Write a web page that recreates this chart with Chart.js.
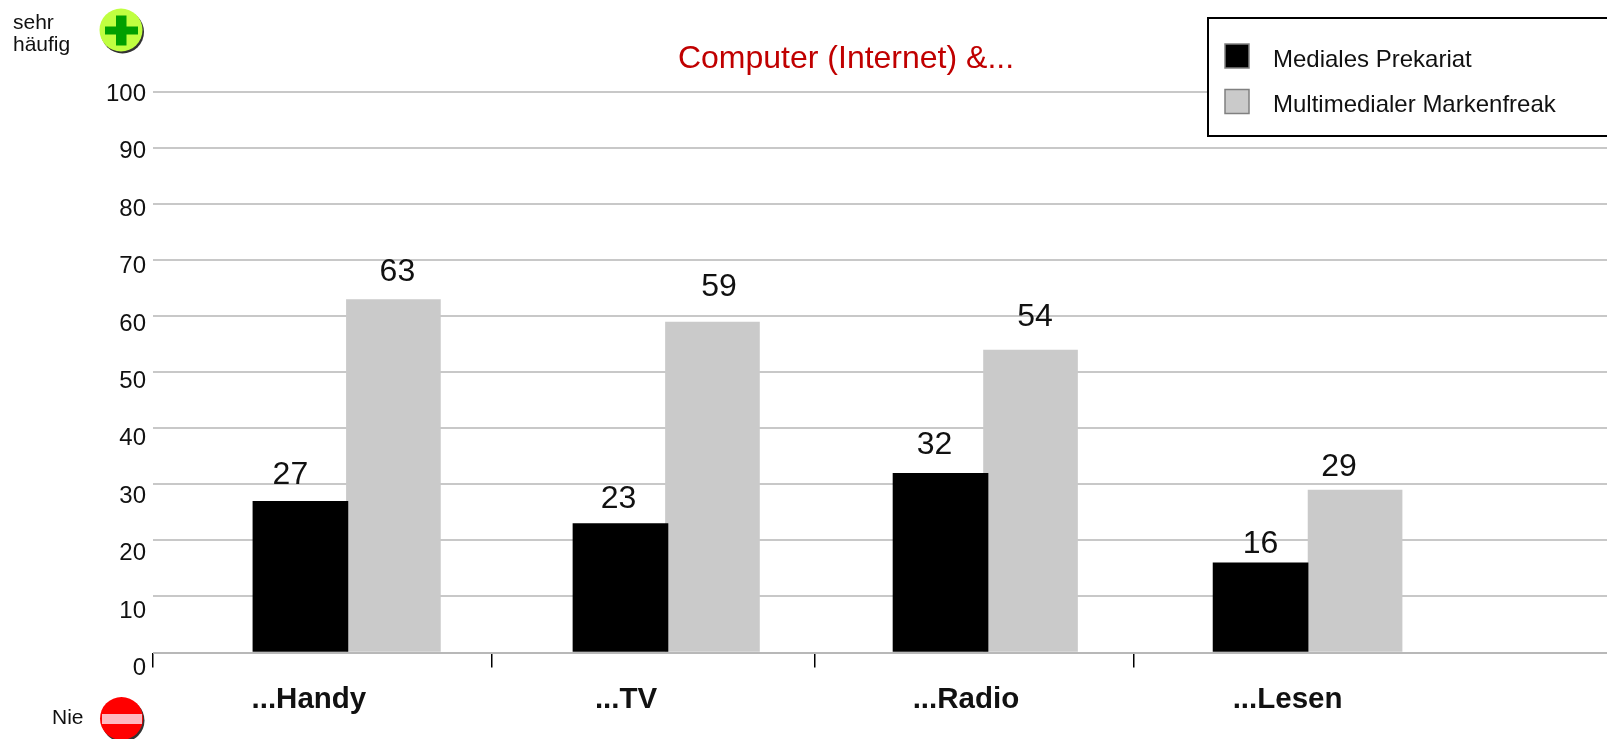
<!DOCTYPE html>
<html>
<head>
<meta charset="utf-8">
<title>Computer (Internet) &amp;...</title>
<script src="https://cdn.jsdelivr.net/npm/chart.js@4"></script>
<style>
  html, body { margin: 0; padding: 0; background: #fff; overflow: hidden; }
  canvas { display: block; }
</style>
</head>
<body>
<canvas id="chart" width="1607" height="739"></canvas>
<script>
// values
var categories = ["...Handy", "...TV", "...Radio", "...Lesen"];
var prekariat = [27, 23, 32, 16];
var markenfreak = [63, 59, 54, 29];
var yTicks = [0, 10, 20, 30, 40, 50, 60, 70, 80, 90, 100];

// x axis runs in group units, 0 = first group
var xMin = -0.609, xMax = 3.934;
var xTickMarks = [-0.609, 0.448, 1.459, 2.456];
var xLabelSpots = [-0.122, 0.869, 1.931, 2.936];

var fontName = '"Liberation Sans", Arial, sans-serif';
var textColor = "#111";

// the grey bars are not spaced evenly in the original, small nudge in px
var greyNudge = [-1.5, -2.5, -4.5, 0];

// value labels do not sit centred on the bars in the original
var labelShift = [
    [[-10, -26], [-2, -25], [-6, -28], [0, -19]],
    [[4, -27], [6.5, -35], [4.5, -33], [-16, -23]]
];

function toPoints(values) {
    return values.map(function (v, i) { return { x: i, y: v }; });
}

function setTicks(values) {
    return function (scale) {
        scale.ticks = values.map(function (v) { return { value: v }; });
    };
}

function setHeight(h) {
    return function (scale) { scale.height = h; };
}

function setWidth(w) {
    return function (scale) { scale.width = w; };
}

function text(ctx, str, x, y, size, color, align, weight) {
    ctx.font = (weight || "normal") + " " + size + "px " + fontName;
    ctx.fillStyle = color;
    ctx.textAlign = align || "left";
    ctx.textBaseline = "middle";
    ctx.fillText(str, x, y);
}

function badge(ctx, x, y, r, color) {
    ctx.fillStyle = "#333";
    ctx.beginPath();
    ctx.arc(x + 1.5, y + 2, r, 0, Math.PI * 2);
    ctx.fill();
    ctx.fillStyle = color;
    ctx.beginPath();
    ctx.arc(x, y, r, 0, Math.PI * 2);
    ctx.fill();
}

var extras = {
    id: "extras",
    afterLayout: function (chart) {
        // title is centred further right than the canvas middle
        chart.titleBlock.left = 85;
    },
    afterDatasetsUpdate: function (chart) {
        chart.getDatasetMeta(1).data.forEach(function (bar, i) {
            bar.x += greyNudge[i];
        });
    },
    afterDatasetsDraw: function (chart) {
        var ctx = chart.ctx;
        ctx.save();
        chart.data.datasets.forEach(function (ds, d) {
            chart.getDatasetMeta(d).data.forEach(function (bar, i) {
                text(ctx, String(ds.data[i].y), bar.x + labelShift[d][i][0], bar.y + labelShift[d][i][1], 32, textColor, "center");
            });
        });
        ctx.restore();
    },
    afterDraw: function (chart) {
        var ctx = chart.ctx;
        ctx.save();

        // legend box runs off the right edge
        ctx.fillStyle = "#fff";
        ctx.fillRect(1208, 18, 420, 118);
        ctx.strokeStyle = "#000";
        ctx.lineWidth = 2;
        ctx.strokeRect(1208, 18, 420, 118);
        chart.data.datasets.forEach(function (ds, d) {
            var y = 44 + d * 45.5;
            ctx.fillStyle = ds.backgroundColor;
            ctx.fillRect(1225, y, 24, 24);
            ctx.strokeStyle = "#808080";
            ctx.lineWidth = 1.5;
            ctx.strokeRect(1225, y, 24, 24);
            text(ctx, ds.label, 1273, y + 16, 24, textColor);
        });

        // scale end markers
        text(ctx, "sehr", 13, 23, 21, textColor);
        text(ctx, "häufig", 13, 45, 21, textColor);
        text(ctx, "Nie", 52, 718, 21, textColor);

        badge(ctx, 121, 30, 21.5, "#c0ff40");
        ctx.fillStyle = "#00a000";
        ctx.fillRect(116, 15.5, 10.5, 30);
        ctx.fillRect(105, 26.5, 33, 8);

        badge(ctx, 121.5, 718.5, 21.5, "#ff0000");
        ctx.fillStyle = "#ffb8c0";
        ctx.fillRect(102, 714, 40, 10);

        ctx.restore();
    }
};

new Chart(document.getElementById("chart").getContext("2d"), {
    type: "bar",
    data: {
        datasets: [
            {
                label: "Mediales Prekariat",
                data: toPoints(prekariat),
                backgroundColor: "#000000",
                barThickness: 95,
                xAxisID: "x",
                yAxisID: "y"
            },
            {
                label: "Multimedialer Markenfreak",
                data: toPoints(markenfreak),
                backgroundColor: "#cacaca",
                barThickness: 94,
                xAxisID: "x",
                yAxisID: "y"
            }
        ]
    },
    plugins: [extras],
    options: {
        responsive: false,
        animation: false,
        layout: { padding: 0 },
        plugins: {
            legend: { display: false },
            tooltip: { enabled: false },
            title: {
                display: true,
                text: "Computer (Internet) &...",
                color: "#c00000",
                font: { family: fontName, size: 32, weight: "normal" },
                padding: { top: 40, bottom: 14 }
            }
        },
        scales: {
            // tick marks between the groups
            x: {
                type: "linear",
                position: "bottom",
                min: xMin,
                max: xMax,
                offset: false,
                afterBuildTicks: setTicks(xTickMarks),
                afterFit: setHeight(15),
                border: { display: false },
                ticks: { display: false, autoSkip: false },
                grid: { offset: false, drawOnChartArea: false, tickLength: 15, tickColor: "#000", tickWidth: 1.5, lineWidth: 1.5, color: "#000" }
            },
            // category names, off centre like the original
            xNames: {
                type: "linear",
                axis: "x",
                position: "bottom",
                min: xMin,
                max: xMax,
                offset: false,
                afterBuildTicks: setTicks(xLabelSpots),
                afterFit: setHeight(71.5),
                border: { display: false },
                grid: { display: false, drawTicks: false, offset: false },
                ticks: {
                    autoSkip: false,
                    maxRotation: 0,
                    padding: 15,
                    color: textColor,
                    font: { family: fontName, size: 29.5, weight: "bold" },
                    callback: function (v, i) { return categories[i]; }
                }
            },
            y: {
                type: "linear",
                position: "left",
                min: 0,
                max: 100,
                afterBuildTicks: setTicks(yTicks),
                afterFit: setWidth(0),
                border: { display: false },
                ticks: { display: false },
                grid: {
                    drawTicks: false,
                    lineWidth: 2,
                    color: function (c) { return c.tick && c.tick.value === 0 ? "#b8b8b8" : "#c8c8c8"; }
                }
            },
            // the printed numbers are spaced wider than the grid lines
            yNames: {
                type: "linear",
                axis: "y",
                position: "left",
                min: 2.79,
                max: 100.35,
                afterBuildTicks: setTicks(yTicks),
                afterFit: setWidth(153),
                border: { display: false },
                grid: { display: false, drawTicks: false },
                ticks: {
                    autoSkip: false,
                    padding: 7,
                    color: textColor,
                    font: { family: fontName, size: 24 },
                    callback: function (v) { return String(v); }
                }
            }
        }
    }
});
</script>
</body>
</html>
